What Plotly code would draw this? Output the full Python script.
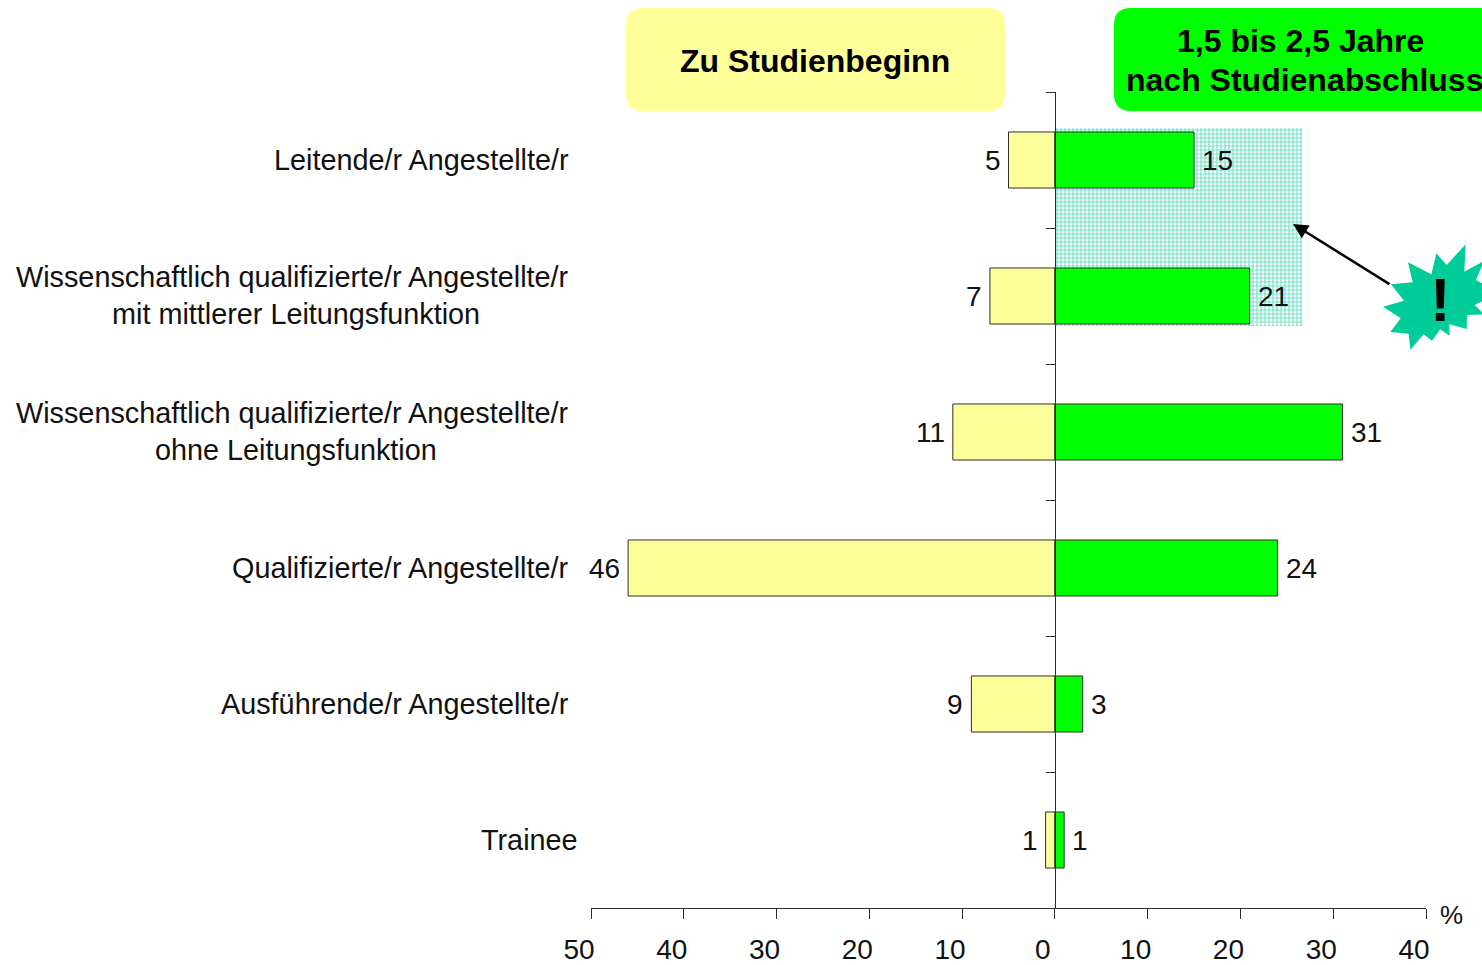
import plotly.graph_objects as go

CATEGORIES = [
    "Leitende/r Angestellte/r",
    "Wissenschaftlich qualifizierte/r Angestellte/r<br>mit mittlerer Leitungsfunktion",
    "Wissenschaftlich qualifizierte/r Angestellte/r<br>ohne Leitungsfunktion",
    "Qualifizierte/r Angestellte/r",
    "Ausführende/r Angestellte/r",
    "Trainee",
]
ZU_STUDIENBEGINN = [5, 7, 11, 46, 9, 1]
NACH_ABSCHLUSS = [15, 21, 31, 24, 3, 1]
X_TICKS = [-50, -40, -30, -20, -10, 0, 10, 20, 30, 40]
X_LABELS = ["50", "40", "30", "20", "10", "0", "10", "20", "30", "40"]
Y_BOUNDARIES = [-0.5, 0.5, 1.5, 2.5, 3.5, 4.5, 5.5]
HIGHLIGHT_END = 26.7
HIGHLIGHT_TOP = -0.235
HIGHLIGHT_BOTTOM = 1.22

W, H = 1482, 965
L, R, T, B = 591, 1426, 92, 908
FONT = "Liberation Sans"
INK = "#111111"
EDGE = "#2e2e2e"
YELLOW = "#FFFF99"
GREEN = "#00FF00"
TEAL = "#00CC99"


def px(x):
    return (x - L) / (R - L)


def py(y):
    return (B - y) / (B - T)


def rounded(x0, y0, x1, y1, r):
    a, b, c, d = px(x0), py(y0), px(x1), py(y1)
    rx, ry = r / (R - L), r / (B - T)
    return (
        f"M{a + rx},{b} L{c - rx},{b} Q{c},{b} {c},{b - ry} L{c},{d + ry} Q{c},{d} {c - rx},{d} "
        f"L{a + rx},{d} Q{a},{d} {a},{d + ry} L{a},{b - ry} Q{a},{b} {a + rx},{b} Z"
    )


STAR = [
    (57, 148), (122, 142), (108, 82), (178, 118), (193, 55), (224, 90), (281, 28), (277, 110),
    (336, 78), (312, 135), (340, 150), (340, 195), (308, 210), (336, 238), (285, 240), (284, 282),
    (232, 268), (233, 302), (205, 283), (180, 317), (155, 298), (115, 344), (110, 296), (55, 291),
    (86, 250), (33, 215), (96, 197),
]
star_path = "M" + " L".join(f"{px(1372 + a / 3)},{py(235 + b / 3)}" for a, b in STAR) + " Z"

rows = list(range(len(CATEGORIES)))
fig = go.Figure()
fig.add_bar(
    y=[(HIGHLIGHT_TOP + HIGHLIGHT_BOTTOM) / 2], x=[HIGHLIGHT_END], width=[HIGHLIGHT_BOTTOM - HIGHLIGHT_TOP],
    orientation="h", showlegend=False, hoverinfo="skip",
    marker=dict(
        color="rgba(0,0,0,0)", line=dict(width=0),
        pattern=dict(shape="+", size=4, solidity=0.5, fgcolor=TEAL, fgopacity=0.55, bgcolor="rgba(255,255,255,0)", fillmode="overlay"),
    ),
)
fig.add_bar(
    y=rows, x=[-v for v in ZU_STUDIENBEGINN], orientation="h", name="Zu Studienbeginn",
    marker=dict(color=YELLOW, line=dict(color=EDGE, width=1)),
)
fig.add_bar(
    y=rows, x=NACH_ABSCHLUSS, orientation="h", name="1,5 bis 2,5 Jahre nach Studienabschluss",
    marker=dict(color=GREEN, line=dict(color=EDGE, width=1)),
)

CAT_FONT = dict(size=28.8, color=INK, family=FONT)
ann = []
for i, label in enumerate(CATEGORIES):
    parts = label.split("<br>")
    if len(parts) == 2:
        ann.append(dict(xref="paper", yref="y", x=px(571), y=i, yshift=19, text=parts[0], xanchor="right", yanchor="middle", showarrow=False, font=CAT_FONT))
        ann.append(dict(xref="paper", yref="y", x=px(296), y=i, yshift=-18, text=parts[1], xanchor="center", yanchor="middle", showarrow=False, font=CAT_FONT))
    else:
        right = 580 if label == "Trainee" else 571
        ann.append(dict(xref="paper", yref="y", x=px(right), y=i, text=label, xanchor="right", yanchor="middle", showarrow=False, font=CAT_FONT))
for i, (a, b) in enumerate(zip(ZU_STUDIENBEGINN, NACH_ABSCHLUSS)):
    ann.append(dict(x=-a, y=i, text=str(a), xanchor="right", yanchor="middle", xshift=-6, showarrow=False))
    ann.append(dict(x=b, y=i, text=str(b), xanchor="left", yanchor="middle", xshift=6, showarrow=False))
ann.append(dict(xref="paper", yref="paper", x=px(1451), y=py(915), text="%", xanchor="center", yanchor="middle", showarrow=False, font=dict(size=26, color=INK, family=FONT)))
HEAD_FONT = dict(size=32, color="black", family=FONT)
ann.append(dict(xref="paper", yref="paper", x=px(815), y=py(61), text="<b>Zu Studienbeginn</b>", xanchor="center", yanchor="middle", showarrow=False, font=HEAD_FONT))
ann.append(dict(xref="paper", yref="paper", x=px(1300), y=py(41), text="<b>1,5 bis 2,5 Jahre</b>", xanchor="center", yanchor="middle", showarrow=False, font=HEAD_FONT))
ann.append(dict(xref="paper", yref="paper", x=px(1304), y=py(80), text="<b>nach Studienabschluss</b>", xanchor="center", yanchor="middle", showarrow=False, font=HEAD_FONT))
ann.append(dict(xref="paper", yref="paper", x=px(1440), y=py(299), text="<b>!</b>", xanchor="center", yanchor="middle", showarrow=False,
                font=dict(size=62, color="black", family=FONT)))
ann.append(dict(
    xref="paper", yref="paper", axref="pixel", ayref="pixel", x=px(1293), y=py(224), ax=98, ay=61,
    text="", showarrow=True, arrowhead=2, arrowsize=1.2, arrowwidth=2.5, arrowcolor="black", standoff=0,
))

fig.update_layout(
    width=W, height=H, margin=dict(l=L, r=W - R, t=T, b=H - B, pad=0, autoexpand=False),
    paper_bgcolor="white", plot_bgcolor="white", showlegend=False,
    barmode="overlay", bargap=0.588,
    font=dict(family=FONT, size=28, color=INK),
    annotations=ann,
    shapes=[
        dict(type="path", xref="paper", yref="paper", layer="below", path=rounded(626, 8, 1005, 111, 17), fillcolor=YELLOW, line=dict(width=0)),
        dict(type="path", xref="paper", yref="paper", layer="below", path=rounded(1114, 8, 1520, 111, 17), fillcolor=GREEN, line=dict(width=0)),
        dict(type="path", xref="paper", yref="paper", layer="above", path=star_path, fillcolor=TEAL, line=dict(width=0)),
    ],
    xaxis=dict(
        range=[-50, 40], tickmode="array", tickvals=X_TICKS, ticktext=X_LABELS, showgrid=False, zeroline=False,
        showline=True, linecolor=EDGE, linewidth=1, ticks="outside", ticklen=10, tickcolor=EDGE, tickwidth=1,
        ticklabelshift=-12, ticklabelstandoff=6, tickfont=dict(size=28, color=INK, family=FONT), fixedrange=True,
        automargin=False,
    ),
    yaxis=dict(
        range=[5.5, -0.5], tickmode="array", tickvals=Y_BOUNDARIES, showticklabels=False, showgrid=False, zeroline=False,
        anchor="free", position=(1055 - L) / (R - L), showline=True, linecolor=EDGE, linewidth=1,
        ticks="outside", ticklen=9, tickcolor=EDGE, tickwidth=1, fixedrange=True, automargin=False,
    ),
)
fig.write_html("out.html", config=dict(displayModeBar=False),
               post_script="document.body.style.margin='0';document.body.style.overflow='hidden';")
